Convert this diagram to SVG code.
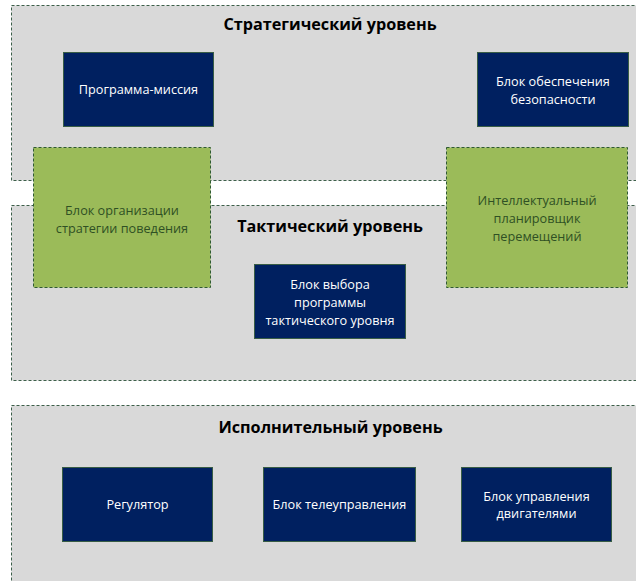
<svg xmlns="http://www.w3.org/2000/svg" width="636" height="581" viewBox="0 0 636 581">
<style>
.panel{fill:#d9d9d9;stroke:#3d5f4a;stroke-width:1;stroke-dasharray:3,2}
.navy{fill:#002060;stroke:#385d45;stroke-width:1}
.green{fill:#9bbb59;stroke:#2f5a32;stroke-width:1;stroke-dasharray:3,2}
.title{font-family:"Open Sans","Liberation Sans",sans-serif;font-weight:bold;font-size:16.2px;fill:#000;text-anchor:middle}
.wt{font-family:"Open Sans","Liberation Sans",sans-serif;font-size:12.7px;fill:#fff;text-anchor:middle}
.gt{font-family:"Open Sans","Liberation Sans",sans-serif;font-size:12.7px;fill:#2f5024;text-anchor:middle}
</style>
<rect width="636" height="581" fill="#fff"/>
<g id="panel-strategic">
<rect class="panel" x="11.5" y="5.5" width="640" height="175"/>
<text class="title" x="330" y="30">Стратегический уровень</text>
</g>
<g id="panel-tactical">
<rect class="panel" x="11.5" y="205.5" width="640" height="175"/>
<text class="title" x="330" y="232">Тактический уровень</text>
</g>
<g id="panel-executive">
<rect class="panel" x="11.5" y="405.5" width="640" height="190"/>
<text class="title" x="330.5" y="432.5">Исполнительный уровень</text>
</g>
<g id="connectors"></g>
<g id="node-mission">
<rect class="navy" x="63.5" y="52.5" width="150" height="74"/>
<text class="wt" x="138.5" y="94">Программа-миссия</text>
</g>
<g id="node-safety">
<rect class="navy" x="477.5" y="52.5" width="151" height="74"/>
<text class="wt" x="553" y="86">Блок обеспечения</text>
<text class="wt" x="553" y="103.5">безопасности</text>
</g>
<g id="node-behavior">
<rect class="green" x="33.5" y="147.5" width="177" height="140"/>
<text class="gt" x="122" y="214.5">Блок организации</text>
<text class="gt" x="122" y="232.5">стратегии поведения</text>
</g>
<g id="node-planner">
<rect class="green" x="446.5" y="147.5" width="181" height="140"/>
<text class="gt" x="537" y="205">Интеллектуальный</text>
<text class="gt" x="537" y="223">планировщик</text>
<text class="gt" x="537" y="241">перемещений</text>
</g>
<g id="node-select">
<rect class="navy" x="254.5" y="264.5" width="151" height="74"/>
<text class="wt" x="330" y="288.5">Блок выбора</text>
<text class="wt" x="330" y="306.5">программы</text>
<text class="wt" x="330" y="324.5">тактического уровня</text>
</g>
<g id="node-regulator">
<rect class="navy" x="62.5" y="467.5" width="150" height="74"/>
<text class="wt" x="137.5" y="509">Регулятор</text>
</g>
<g id="node-telecontrol">
<rect class="navy" x="263.5" y="467.5" width="152" height="74"/>
<text class="wt" x="339.5" y="509">Блок телеуправления</text>
</g>
<g id="node-engines">
<rect class="navy" x="461.5" y="467.5" width="150" height="74"/>
<text class="wt" x="536.5" y="500.5">Блок управления</text>
<text class="wt" x="536.5" y="518">двигателями</text>
</g>
</svg>
